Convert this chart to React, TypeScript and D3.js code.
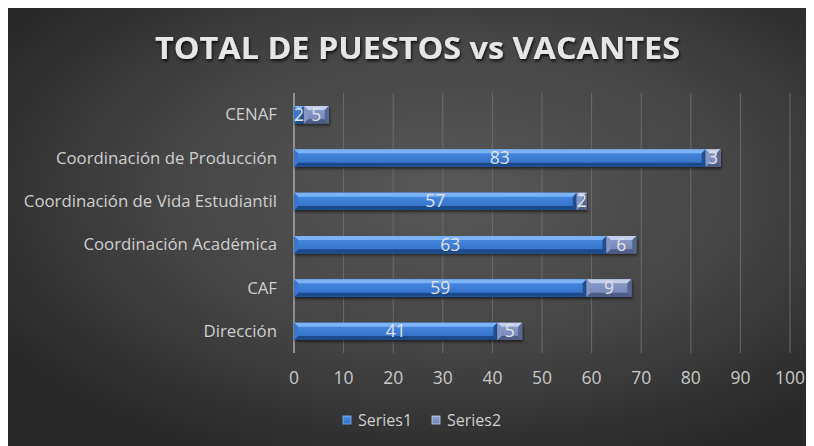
import React from "react";
import * as d3 from "d3";

const categories = ["CENAF", "Coordinación de Producción", "Coordinación de Vida Estudiantil", "Coordinación Académica", "CAF", "Dirección"];
const series1 = [2, 83, 57, 63, 59, 41];
const series2 = [5, 3, 2, 6, 9, 5];
const seriesNames = ["Series1", "Series2"];
const xTicks = [0, 10, 20, 30, 40, 50, 60, 70, 80, 90, 100];
const title = "TOTAL DE PUESTOS vs VACANTES";

const W = 806;
const H = 438;
const FONT = "'Open Sans', 'DejaVu Sans', sans-serif";

const palettes = [
  { top: "#7cb3f5", face0: "#4b8ee6", face1: "#2f6cc2", bottom: "#1f4c8c", left: "#3a76cc", right: "#21508f" },
  { top: "#c3cfec", face0: "#8ea0cd", face1: "#6f82b2", bottom: "#4d5d86", left: "#8597c6", right: "#57688f" },
];

function Bar({ x, y, w, h, p, id }: any) {
  const b = Math.min(4, w / 2, h / 2);
  const x1 = x + w;
  const y1 = y + h;
  return (
    <g filter="url(#barShadow)">
      <rect x={x} y={y} width={w} height={h} fill={`url(#face${id})`} />
      <polygon points={`${x},${y} ${x1},${y} ${x1 - b},${y + b} ${x + b},${y + b}`} fill={p.top} />
      <polygon points={`${x},${y1} ${x1},${y1} ${x1 - b},${y1 - b} ${x + b},${y1 - b}`} fill={p.bottom} />
      <polygon points={`${x},${y} ${x + b},${y + b} ${x + b},${y1 - b} ${x},${y1}`} fill={p.left} />
      <polygon points={`${x1},${y} ${x1 - b},${y + b} ${x1 - b},${y1 - b} ${x1},${y1}`} fill={p.right} />
    </g>
  );
}

export default function App() {
  const x = d3.scaleLinear().domain([0, 100]).range([286, 782]);
  const y = d3.scaleBand().domain(categories).range([85, 345]).paddingInner(0.6).paddingOuter(0.3);
  const band = d3.scaleBand().domain(categories).range([85, 345]);
  const bh = y.bandwidth();

  return (
    <svg width={W} height={H} style={{ display: "block" }}>
      <defs>
        <radialGradient id="bg" cx="0.55" cy="0.42" r="0.65">
          <stop offset="0" stopColor="#585858" />
          <stop offset="0.55" stopColor="#454545" />
          <stop offset="1" stopColor="#292929" />
        </radialGradient>
        {palettes.map((p, i) => (
          <linearGradient key={i} id={`face${i}`} x1="0" y1="0" x2="0" y2="1">
            <stop offset="0" stopColor={p.face0} />
            <stop offset="1" stopColor={p.face1} />
          </linearGradient>
        ))}
        <filter id="barShadow" x="-10%" y="-30%" width="120%" height="180%">
          <feDropShadow dx="1" dy="2" stdDeviation="1.5" floodColor="#000" floodOpacity="0.55" />
        </filter>
        <filter id="titleShadow" x="-10%" y="-50%" width="120%" height="200%">
          <feDropShadow dx="1" dy="2" stdDeviation="1.5" floodColor="#000" floodOpacity="0.8" />
        </filter>
      </defs>
      <rect x={0} y={0} width={W} height={H} fill="url(#bg)" />

      <text x={409.5} y={51} textAnchor="middle" fontFamily={FONT} fontWeight="bold" fontSize={30}
        fill="#e6e6e6" filter="url(#titleShadow)" textLength={525} lengthAdjust="spacingAndGlyphs">
        {title}
      </text>

      {xTicks.map((t) => (
        <line key={t} x1={x(t)} x2={x(t)} y1={85} y2={345} stroke={t === 0 ? "#a8a8a8" : "#6b6b6b"} strokeWidth={t === 0 ? 1.5 : 1} />
      ))}
      {xTicks.map((t) => (
        <text key={"l" + t} x={x(t)} y={376} textAnchor="middle" fontFamily={FONT} fontSize={17.5} fill="#c9c9c9">{t}</text>
      ))}

      {categories.map((c) => (
        <text key={"c" + c} x={269} y={(band(c) as number) + band.bandwidth() / 2 + 5.5} textAnchor="end" fontFamily={FONT} fontSize={16.8} fill="#cfcfcf">{c}</text>
      ))}

      {categories.map((c, i) => {
        const yy = y(c) as number;
        const a = series1[i];
        const b = series2[i];
        return (
          <g key={"b" + c}>
            <Bar x={x(0)} y={yy} w={x(a) - x(0)} h={bh} p={palettes[0]} id={0} />
            <Bar x={x(a)} y={yy} w={x(a + b) - x(a)} h={bh} p={palettes[1]} id={1} />
          </g>
        );
      })}
      {categories.map((c, i) => {
        const yy = (y(c) as number) + bh / 2 + 6;
        const a = series1[i];
        const b = series2[i];
        return (
          <g key={"t" + c} fontFamily={FONT} fontSize={17.5} fill="#e2e2e2" textAnchor="middle">
            <text x={(x(0) + x(a)) / 2} y={yy}>{a}</text>
            <text x={(x(a) + x(a + b)) / 2} y={yy}>{b}</text>
          </g>
        );
      })}

      {seriesNames.map((s, i) => {
        const lx = [335, 424][i];
        return (
          <g key={s}>
            <rect x={lx} y={408} width={8} height={8} fill={`url(#face${i})`} stroke={palettes[i].top} strokeWidth={0.8} />
            <text x={lx + 15} y={418} fontFamily={FONT} fontSize={16} fill="#cfcfcf">{s}</text>
          </g>
        );
      })}
    </svg>
  );
}
